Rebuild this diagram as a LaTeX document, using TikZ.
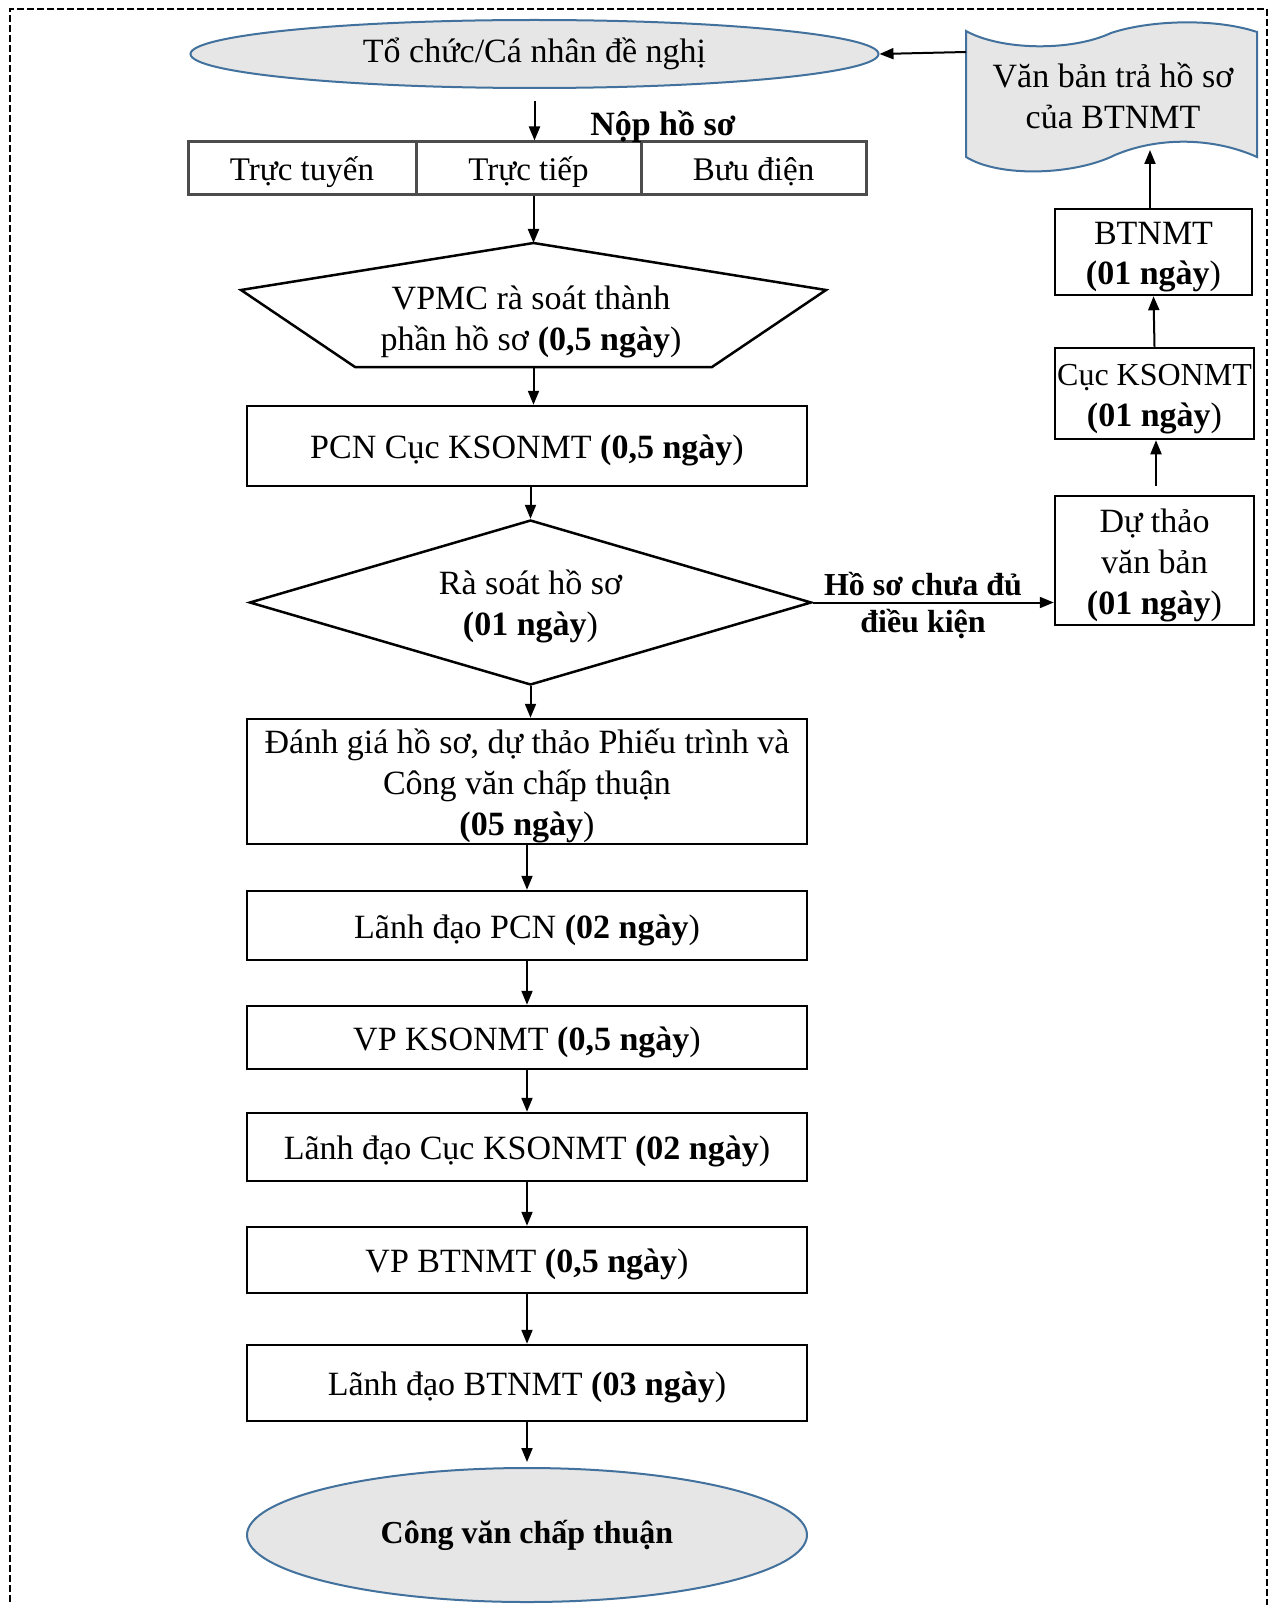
\documentclass[tikz,border=0pt]{standalone}
\usepackage{fontspec}
\setmainfont{Liberation Serif}
\usetikzlibrary{shapes.geometric,arrows.meta}
\definecolor{shapefill}{HTML}{E6E6E6}
\definecolor{shapeblue}{HTML}{41719C}
\begin{document}
\begin{tikzpicture}[x=0.5pt,y=-0.5pt,
  every node/.style={font=\fontsize{17pt}{20.5pt}\selectfont, align=center, inner sep=0pt},
  arr/.style={line width=1pt, -{Triangle[length=7pt,width=5.5pt]}},
  box/.style={draw, line width=1.25pt, rectangle, minimum width=280pt},
  rbox/.style={draw, line width=1.25pt, rectangle, minimum width=99.5pt},
  oval/.style={ellipse, draw=shapeblue, fill=shapefill, line width=1pt},
  cell/.style={draw=black!70, line width=1.5pt, rectangle, minimum height=26.5pt, font=\fontsize{16.5pt}{20pt}\selectfont, text height=16pt, text depth=4pt},
  lbl/.style={font=\bfseries\fontsize{16pt}{18.5pt}\selectfont},
  oneline/.style={text height=16.5pt, text depth=4pt},
  twolines/.style={text height=37pt, text depth=4pt},
  threelines/.style={text height=57.5pt, text depth=4pt}
]
\useasboundingbox (0,0) rectangle (1272,1605);
\draw[line width=1pt, dash pattern=on 3.5pt off 1.5pt] (10,1612) -- (10,9) -- (1267,9) -- (1267,1612);

% top ellipse
\node[oval, minimum width=344pt, minimum height=34pt] (org) at (534.5,54) {Tổ chức/Cá nhân đề nghị};

% document shape
\draw[draw=shapeblue, fill=shapefill, line width=1pt]
  (966,31) .. controls (1000,50) and (1070,52) .. (1111,33)
  .. controls (1150,20) and (1215,18) .. (1257,32) -- (1257,157)
  .. controls (1215,138) and (1160,136) .. (1115,155)
  .. controls (1075,175) and (1000,178) .. (966,157) -- cycle;
\node (doc) at (1113,96) {Văn bản trả hồ sơ\\của BTNMT};
\coordinate (docL) at (966,52);
\coordinate (docB) at (1150,150);

% submission channels
\node[cell, minimum width=114pt] (c1) at (302,168.5) {Trực tuyến};
\node[cell, minimum width=112.5pt] (c2) at (528.5,168.5) {Trực tiếp};
\node[cell, minimum width=112.5pt] (c3) at (753.5,168.5) {Bưu điện};
\node[font=\bfseries\fontsize{17pt}{20pt}\selectfont] (nop) at (663,127) {Nộp hồ sơ};
\draw[arr] ([yshift=-6pt]org.south) -- (org.south |- c2.north);

% pentagon
\coordinate (pT) at (533.5,243);
\coordinate (pB) at (533.5,367);
\draw[line width=1.25pt] (pT) -- (826,290) -- (712,367) -- (355,367) -- (241,290) -- cycle;
\node (vpmc) at (531,321.5) {VPMC rà soát thành\\phần hồ sơ \textbf{(0,5 ngày})};
\draw[arr] (c2.south -| pT) -- (pT);

% main column
\node[box, oneline, minimum height=40pt] (pcn) at (527,446) {PCN Cục KSONMT \textbf{(0,5 ngày})};
\draw[arr] (pB) -- (pB |- pcn.north);

\node[diamond, draw, line width=1.25pt, aspect=3.4, twolines, minimum width=281pt, minimum height=82.5pt] (dia) at (530.5,602.5) {Rà soát hồ sơ\\\textbf{(01 ngày})};
\draw[arr] (pcn.south -| dia.north) -- (dia.north);

\node[box, threelines, minimum height=62.5pt] (dg) at (527,781.5) {Đánh giá hồ sơ, dự thảo Phiếu trình và\\Công văn chấp thuận\\\textbf{(05 ngày})};
\draw[arr] (dia.south) -- (dia.south |- dg.north);

\node[box, oneline, minimum height=34.5pt] (ldpcn) at (527,925.5) {Lãnh đạo PCN \textbf{(02 ngày})};
\draw[arr] (dg.south) -- (ldpcn.north);

\node[box, oneline, minimum height=31.5pt] (vpks) at (527,1037.5) {VP KSONMT \textbf{(0,5 ngày})};
\draw[arr] (ldpcn.south) -- (vpks.north);

\node[box, oneline, minimum height=34pt] (ldcuc) at (527,1147) {Lãnh đạo Cục KSONMT \textbf{(02 ngày})};
\draw[arr] (vpks.south) -- (ldcuc.north);

\node[box, oneline, minimum height=33pt] (vpbt) at (527,1260) {VP BTNMT \textbf{(0,5 ngày})};
\draw[arr] (ldcuc.south) -- (vpbt.north);

\node[box, oneline, minimum height=38pt] (ldbt) at (527,1383) {Lãnh đạo BTNMT \textbf{(03 ngày})};
\draw[arr] (vpbt.south) -- (ldbt.north);

\node[oval, minimum width=280pt, minimum height=67pt, font=\bfseries\fontsize{16pt}{20pt}\selectfont] (cv) at (527,1535) {Công văn chấp thuận};
\draw[arr, shorten >=2.5pt] (ldbt.south) -- (cv.north);

% right column
\node[rbox, threelines, minimum height=64.5pt] (dt) at (1154.5,560.5) {Dự thảo\\văn bản\\\textbf{(01 ngày})};
\node[rbox, twolines, minimum height=45.5pt] (cuc) at (1154.5,393.5) {{\fontsize{16pt}{20.5pt}\selectfont Cục KSONMT}\\\textbf{(01 ngày})};
\node[rbox, twolines, minimum width=98.5pt, minimum height=43pt] (bt) at (1153.5,252) {BTNMT\\\textbf{(01 ngày})};

\draw[arr] (dia.east) -- (dia.east -| dt.west);
\node[lbl] (lab) at (923,605.5) {Hồ sơ chưa đủ\\điều kiện};
\draw[arr] ([xshift=0.75pt,yshift=4.5pt]dt.north) -- ([xshift=0.75pt]dt.north |- cuc.south);
\draw[arr] (cuc.north) -- (bt.south);
\draw[arr] (docB |- bt.north) -- (docB);
\draw[arr] (docL) -- (org.east);
\end{tikzpicture}
\end{document}
